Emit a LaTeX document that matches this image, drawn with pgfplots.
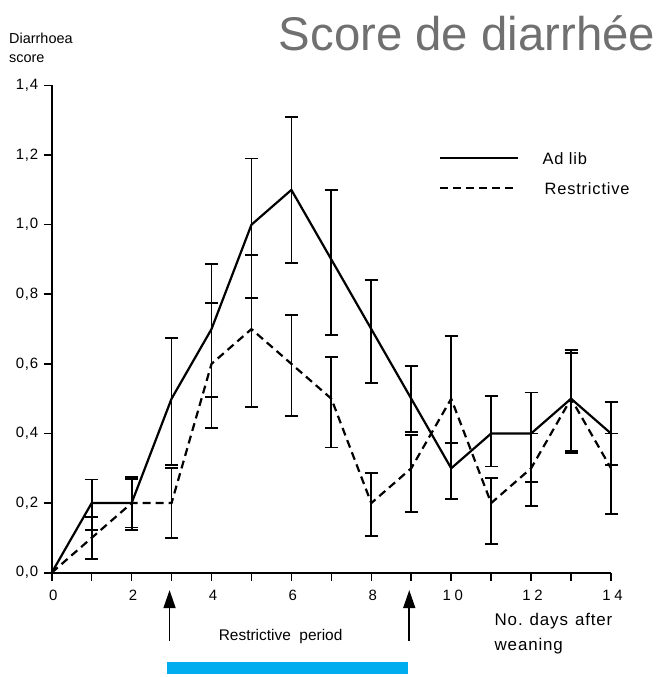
\documentclass[border=0pt]{standalone}
\usepackage{pgfplots}
\pgfplotsset{compat=1.18}
\usepackage{pgfplotstable}
\usepackage{fontspec}
\setmainfont{Liberation Sans}
\newfontfamily\wide[LetterSpace=5]{Liberation Sans}
\newfontfamily\xwide[LetterSpace=25]{Liberation Sans}
\usetikzlibrary{arrows.meta}
\definecolor{barblue}{RGB}{0,174,239}
\definecolor{titlegray}{RGB}{112,112,112}
\pgfplotstableread{
x adlib adp adm restr rp rm
0 0.0 0.0 0.0 0.0 0.0 0.0
1 0.2 0.068 0.077 0.1 0.06 0.06
2 0.2 0.076 0.077 0.2 0.07 0.07
3 0.5 0.175 0.19 0.2 0.1 0.1
4 0.7 0.186 0.194 0.6 0.174 0.185
5 1.0 0.19 0.21 0.7 0.213 0.223
6 1.1 0.21 0.21 0.6 0.14 0.15
7 0.9 0.2 0.217 0.5 0.12 0.14
8 0.7 0.14 0.156 0.2 0.086 0.094
9 0.5 0.094 0.095 0.3 0.096 0.126
10 0.3 0.072 0.088 0.5 0.18 0.128
11 0.4 0.108 0.095 0.2 0.071 0.118
12 0.4 0.118 0.14 0.3 0.1 0.108
13 0.5 0.14 0.15 0.5 0.132 0.155
14 0.4 0.09 0.09 0.3 0.1 0.131
}\data
\begin{document}
\begin{tikzpicture}
\useasboundingbox (0bp,0bp) rectangle (659bp,677bp);
\node[anchor=center, text=titlegray, font=\fontsize{47.5}{48}\selectfont, inner sep=0pt] at (467bp,644bp) {Score de diarrhée};
\node[anchor=west, font=\fontsize{14.5}{16}\selectfont, inner sep=0pt] at (9bp,639bp) {Diarrhoea};
\node[anchor=west, font=\fontsize{14.5}{16}\selectfont, inner sep=0pt] at (9bp,618bp) {score};
\begin{axis}[
  at={(51.7bp,104.3bp)}, anchor=south west,
  scale only axis, width=559.3bp, height=487.2bp,
  xmin=0, xmax=14, ymin=0, ymax=1.4,
  clip=false,
  axis x line=bottom, axis y line=left,
  axis line style={-, line width=1.9bp},
  tick align=outside,
  major tick length=8bp, minor tick length=8bp,
  tick style={line width=1.6bp, black},
  xtick={0,2,4,6,8,10,12,14},
  minor xtick={1,3,5,7,9,11,13},
  ytick={0,0.2,0.4,0.6,0.8,1.0,1.2,1.4},
  yticklabel style={font=\wide\fontsize{15}{15}\selectfont, xshift=-2bp,
    /pgf/number format/.cd, fixed, fixed zerofill, precision=1, use comma},
  xticklabel style={font=\xwide\fontsize{15}{15}\selectfont, yshift=-6bp, xshift=1.5bp},
  /pgf/number format/assume math mode=true,
  error bars/error bar style={line width=1.8bp},
  error bars/error mark options={rotate=90, mark size=6.5bp, line width=1.8bp},
]
\addplot[black, line width=2.2bp, mark=none,
  error bars/.cd, y dir=both, y explicit]
  table[x=x, y=adlib, y error plus=adp, y error minus=adm] {\data};
\addplot[black, line width=2.2bp, dash pattern=on 8bp off 5bp, mark=none,
  error bars/.cd, y dir=both, y explicit, error bar style={solid}]
  table[x=x, y=restr, y error plus=rp, y error minus=rm] {\data};
% legend
\draw[line width=2.2bp] (axis cs:9.72,1.191) -- (axis cs:11.67,1.191);
\node[anchor=west, font=\wide\fontsize{16.5}{17}\selectfont] at (axis cs:12.2,1.191) {Ad lib};
\draw[line width=2.2bp, dash pattern=on 8bp off 5bp] (axis cs:9.72,1.105) -- (axis cs:11.67,1.105);
\node[anchor=west, font=\wide\fontsize{16.5}{17}\selectfont] at (axis cs:12.25,1.105) {Restrictive};
% annotations below
\draw[line width=1.6bp, -{Triangle[length=18bp,width=12bp]}] (axis cs:2.95,-0.195) -- (axis cs:2.95,-0.05);
\draw[line width=1.6bp, -{Triangle[length=18bp,width=12bp]}] (axis cs:8.95,-0.195) -- (axis cs:8.95,-0.05);
\node[font=\fontsize{15.5}{16}\selectfont] at (axis cs:5.73,-0.182) {Restrictive\ \ period};
\node[anchor=west, font=\wide\fontsize{17}{17}\selectfont] at (axis cs:11.0,-0.14) {No.\hspace{7bp}days\hspace{7bp}after};
\node[anchor=west, font=\wide\fontsize{17}{17}\selectfont] at (axis cs:11.0,-0.21) {weaning};
\fill[barblue] (axis cs:2.88,-0.257) rectangle (axis cs:8.91,-0.291);
\end{axis}
\end{tikzpicture}
\end{document}
